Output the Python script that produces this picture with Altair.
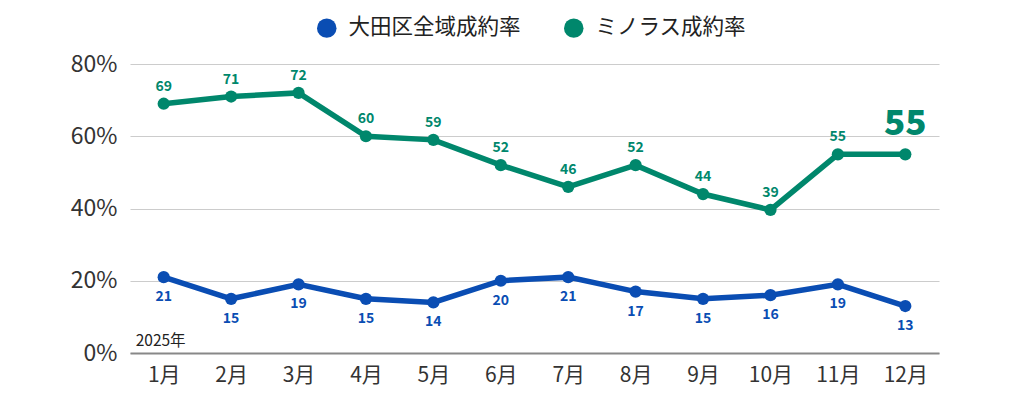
import altair as alt
import pandas as pd

months = ["1月", "2月", "3月", "4月", "5月", "6月", "7月", "8月", "9月", "10月", "11月", "12月"]
ota_values = [21, 15, 19, 15, 14, 20, 21, 17, 15, 16, 19, 13]
ota_labels = ["21", "15", "19", "15", "14", "20", "21", "17", "15", "16", "19", "13"]
minolas_values = [69, 71, 72, 60, 59, 52, 46, 52, 44, 39.6, 55, 55]
minolas_labels = ["69", "71", "72", "60", "59", "52", "46", "52", "44", "39", "55", "55"]
series_names = ["大田区全域成約率", "ミノラス成約率"]
series_colors = ["#0a4db3", "#00876c"]
y_ticks = [0, 20, 40, 60, 80]
year_label = "2025年"

rows = []
for m, v, l in zip(months, ota_values, ota_labels):
    rows.append({"month": m, "series": series_names[0], "value": v, "label": l})
for m, v, l in zip(months, minolas_values, minolas_labels):
    rows.append({"month": m, "series": series_names[1], "value": v, "label": l})
df = pd.DataFrame(rows)

FONT = "Noto Sans CJK JP"

x_enc = alt.X("month:O", sort=months, title=None,
              scale=alt.Scale(type="point", padding=0.5),
              axis=alt.Axis(labelAngle=0, labelFontSize=21, labelColor="#333333",
                            labelPadding=11, ticks=False, domainColor="#888888",
                            domainWidth=1.8, grid=False, labelFont=FONT))
y_enc = alt.Y("value:Q", title=None,
              scale=alt.Scale(domain=[0, 80], nice=False),
              axis=alt.Axis(values=y_ticks, labelExpr="datum.value + '%'",
                            labelFontSize=23, labelColor="#333333", labelPadding=13,
                            ticks=False, domain=False, gridColor="#cccccc",
                            gridWidth=1.2, labelFont=FONT))
color_scale = alt.Scale(domain=series_names, range=series_colors)
legend = alt.Legend(orient="none", legendX=186, legendY=-47,
                    direction="horizontal", title=None,
                    symbolType="circle", symbolSize=380,
                    symbolStrokeWidth=0, labelFontSize=21.5,
                    labelColor="#222222", labelOffset=11,
                    columnPadding=42, labelFont=FONT,
                    labelLimit=300)
color_enc = alt.Color("series:N", scale=color_scale, sort=series_names, legend=legend)

base = alt.Chart(df).encode(x=x_enc, y=y_enc)

lines = base.mark_line(strokeWidth=5.5).encode(color=color_enc, detail="series:N")
points = base.mark_point(filled=True, size=150, opacity=1).encode(color=color_enc)

ota_text = base.mark_text(dy=20, fontSize=14, fontWeight="bold", font=FONT,
                          color=series_colors[0]).encode(text="label:N").transform_filter(
    alt.datum.series == series_names[0])

min_text = base.mark_text(dy=-17, fontSize=14, fontWeight="bold", font=FONT,
                          color=series_colors[1]).encode(text="label:N").transform_filter(
    (alt.datum.series == series_names[1]) & (alt.datum.month != months[-1]))

big_text = base.mark_text(dy=-30, fontSize=35, fontWeight=900, font=FONT,
                          color=series_colors[1]).encode(text="label:N").transform_filter(
    (alt.datum.series == series_names[1]) & (alt.datum.month == months[-1]))

year_df = pd.DataFrame({"month": [months[0]], "value": [3.2], "label": [year_label]})
year_text = alt.Chart(year_df).mark_text(align="left", dx=-28, fontSize=15.5, font=FONT,
                                         color="#222222").encode(
    x=alt.X("month:O", sort=months), y=alt.Y("value:Q"), text="label:N")

chart = alt.layer(lines, points, ota_text, min_text, big_text, year_text).properties(
    width=809, height=289,
    autosize=alt.AutoSizeParams(type="none"),
    padding={"left": 122, "top": 56, "right": 77, "bottom": 37},
).configure(font=FONT).configure_view(stroke=None)

chart.save("out.html", embed_options={"renderer": "svg", "actions": False})
